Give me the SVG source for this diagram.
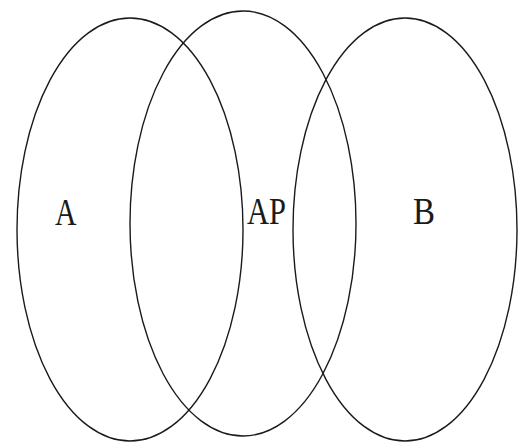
<svg xmlns="http://www.w3.org/2000/svg" width="521" height="443" viewBox="0 0 521 443">
<style>
.set{fill:none;stroke:#1a1a1a;stroke-width:1.4}
.lbl{font-family:"Liberation Serif","DejaVu Serif",serif;font-size:38px;fill:#1a1a1a}
</style>
<rect width="521" height="443" fill="#ffffff"/>
<g id="setA">
<ellipse class="set" cx="130" cy="229.5" rx="113" ry="211.5"/>
<text class="lbl" x="55" y="225" textLength="21.5" lengthAdjust="spacingAndGlyphs">A</text>
</g>
<g id="setAP">
<ellipse class="set" cx="243" cy="223.5" rx="113" ry="212.5"/>
<text class="lbl" x="247" y="224" textLength="39" lengthAdjust="spacingAndGlyphs">AP</text>
</g>
<g id="setB">
<ellipse class="set" cx="405" cy="229.5" rx="112" ry="211.5"/>
<text class="lbl" x="413" y="224" textLength="22" lengthAdjust="spacingAndGlyphs">B</text>
</g>
<g id="connectors"></g>
</svg>
